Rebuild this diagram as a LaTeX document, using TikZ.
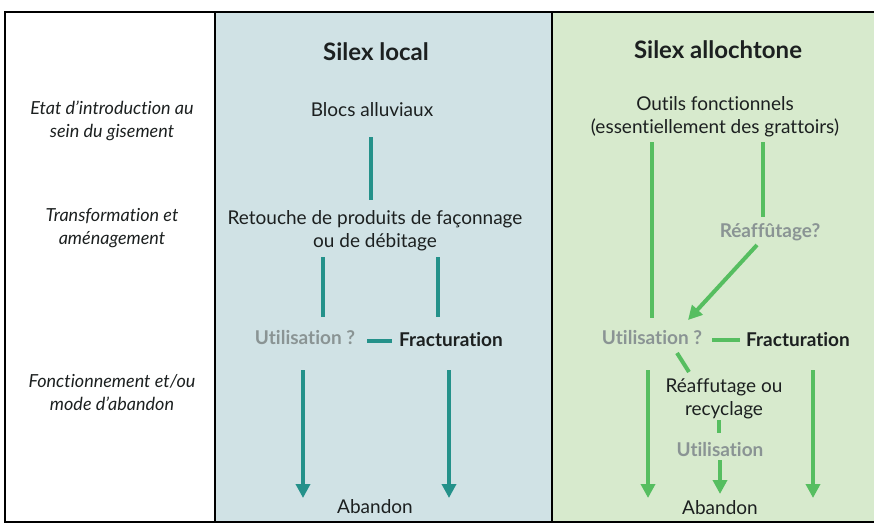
\documentclass[tikz,border=0pt]{standalone}
\usepackage{fontspec}
\setmainfont{Lato}[Ligatures=NoCommon]
\usetikzlibrary{arrows.meta,positioning}
\definecolor{localbg}{RGB}{208,226,229}
\definecolor{allobg}{RGB}{215,234,205}
\definecolor{tealline}{RGB}{36,145,138}
\definecolor{greenline}{RGB}{86,190,96}
\definecolor{fadetext}{RGB}{138,148,148}
\definecolor{inktext}{RGB}{28,32,32}
\tikzset{
  rowlabel/.style={font=\fontsize{18}{23}\selectfont\itshape, align=center, text=inktext, inner sep=1pt},
  coltitle/.style={font=\fontsize{24}{28}\selectfont\bfseries, text=inktext, inner sep=1pt},
  stage/.style={font=\fontsize{19}{23}\selectfont, align=center, text=inktext, inner sep=1pt},
  doubt/.style={font=\fontsize{19}{23}\selectfont\bfseries, text=fadetext, inner sep=1pt},
  breakage/.style={font=\fontsize{19}{23}\selectfont\bfseries, text=inktext, inner sep=1pt},
  tealedge/.style={line width=4pt, tealline},
  tealarrow/.style={-{Triangle[length=14pt,width=14pt]}, line width=4pt, tealline},
  greenedge/.style={line width=4pt, greenline},
  greenarrow/.style={-{Triangle[length=14pt,width=14pt]}, line width=4pt, greenline}
}
\begin{document}
\begin{tikzpicture}[x=1pt,y=-1pt]
  \useasboundingbox (0,0) rectangle (874,524);
  % columns
  \fill[localbg] (215,12) rectangle (552,522);
  \fill[allobg] (552,12) rectangle (874,522);
  \draw[line width=1.5pt] (215,12) -- (215,522); \draw[line width=1.5pt] (552,12) -- (552,522);
  \draw[line width=2pt] (874,12) -- (5,12) -- (5,522) -- (874,522);

  % row labels
  \node[rowlabel] (intro) at (112,121) {Etat d’introduction au\\sein du gisement};
  \node[rowlabel] (transfo) at (112,228) {Transformation et\\aménagement};
  \node[rowlabel] (fonct) at (112,392) {Fonctionnement et/ou\\mode d’abandon};

  % silex local
  \node[coltitle] (local) at (376,52) {Silex local};
  \node[stage] (blocs) at (372,110) {Blocs alluviaux};
  \node[stage] (retouche) at (375,231) {Retouche de produits de façonnage\\ou de débitage};
  \node[doubt] (utilA) at (305,338) {Utilisation ?};
  \node[breakage] (fracA) at (451,340) {Fracturation};
  \node[stage] (abandA) at (375,507) {Abandon};
  \coordinate (a1) at (371,137); \coordinate (a2) at (371,200);
  \coordinate (a3) at (323,257); \coordinate (a4) at (323,317);
  \coordinate (a5) at (438,257); \coordinate (a6) at (438,317);
  \coordinate (a7) at (367,341); \coordinate (a8) at (392,341);
  \coordinate (a9) at (303,370); \coordinate (a10) at (303,498);
  \coordinate (a11) at (449,370); \coordinate (a12) at (449,498);
  \draw[tealedge] (a1) -- (a2);
  \draw[tealedge] (a3) -- (a4); \draw[tealedge] (a5) -- (a6);
  \draw[tealedge] (a7) -- (a8);
  \draw[tealarrow] (a9) -- (a10); \draw[tealarrow] (a11) -- (a12);

  % silex allochtone
  \node[coltitle] (allo) at (718,50) {Silex allochtone};
  \node[stage] (outils) at (715,117) {Outils fonctionnels\\(essentiellement des grattoirs)};
  \node[doubt] (reaff) at (770,232) {Réaffûtage?};
  \node[doubt] (utilB) at (652,338) {Utilisation ?};
  \node[breakage] (fracB) at (798,340) {Fracturation};
  \node[stage] (recycl) at (724,399) {Réaffutage ou\\recyclage};
  \node[doubt] (utilC) at (720,450) {Utilisation};
  \node[stage] (abandB) at (720,508) {Abandon};
  \coordinate (b1) at (652,142); \coordinate (b2) at (652,318);
  \coordinate (b3) at (763,142); \coordinate (b4) at (763,217);
  \coordinate (b5) at (757,245); \coordinate (b6) at (688,320);
  \coordinate (b7) at (712,340); \coordinate (b8) at (740,340);
  \coordinate (b9) at (677,353); \coordinate (b10) at (689,372);
  \coordinate (b11) at (719,420); \coordinate (b12) at (719,433);
  \coordinate (b13) at (720,460); \coordinate (b14) at (720,494);
  \coordinate (b15) at (648,370); \coordinate (b16) at (648,498);
  \coordinate (b17) at (813,370); \coordinate (b18) at (813,498);
  \draw[greenedge] (b1) -- (b2); \draw[greenedge] (b3) -- (b4);
  \draw[greenarrow] (b5) -- (b6);
  \draw[greenedge] (b7) -- (b8); \draw[greenedge] (b9) -- (b10);
  \draw[greenedge] (b11) -- (b12);
  \draw[greenarrow] (b13) -- (b14);
  \draw[greenarrow] (b15) -- (b16); \draw[greenarrow] (b17) -- (b18);
\end{tikzpicture}
\end{document}
